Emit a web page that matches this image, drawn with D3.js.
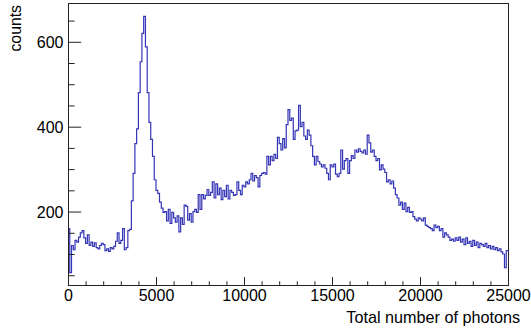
<!DOCTYPE html>
<html>
<head>
<meta charset="utf-8">
<script src="https://cdn.jsdelivr.net/npm/d3@7"></script>
<style>
  html, body { margin: 0; padding: 0; background: #fff; }
  svg { display: block; }
  text { font-family: "Liberation Sans", Arial, Helvetica, sans-serif; fill: #000; }
</style>
</head>
<body>
<svg id="chart" width="531" height="333"></svg>
<script>
// ---- data ----
const xRange = [0, 25000];
const nBins = 250;
// counts per bin (bin width 100 photons)
const counts = [
  160, 56, 120, 110, 132, 128, 140, 150, 155, 138, 125, 145, 120, 128, 118, 126, 115, 112, 120, 125,
  122, 108, 112, 106, 115, 112, 118, 130, 150, 125, 132, 160, 110, 115, 155,
  158, 225, 290, 360, 395, 480, 553, 620, 660, 588, 480, 410, 370, 330, 275, 250, 243, 222, 208, 198, 200,
  178, 205, 172, 198, 185, 175, 190, 152, 185, 170, 215, 212, 180, 195, 175, 200, 205, 198, 240, 205,
  240, 230, 238, 252, 238, 245, 270, 232,
  265, 240, 255, 228, 250, 235, 262, 230, 250, 245, 238, 240, 270, 250, 240, 262, 258, 270, 265, 275,
  290, 272, 285, 280, 258, 285, 290, 292, 288, 330, 310, 330, 320, 335, 325, 375, 360, 345, 372, 350,
  405, 440, 415, 420,
  370, 390, 392, 450, 400, 410, 378, 370, 392, 380, 355, 330, 310, 330, 318, 312, 305, 310, 302, 290,
  275, 310, 305, 312, 288, 282, 290, 345, 300, 320, 325, 290, 320, 332, 325, 345, 340, 348, 342, 338,
  345, 335, 380, 362, 340, 345, 330, 320, 325, 298, 310, 300, 292, 270, 275, 265, 272, 255, 240, 232,
  215, 222, 205, 220, 200, 210, 198,
  200, 188, 182, 178, 185, 182, 178, 185, 168, 165, 162, 160, 155, 168, 162, 165, 155, 160, 140, 150,
  145, 140, 132, 135, 130, 138, 132, 140, 128, 135, 122, 138, 125, 130, 118, 132, 120, 128, 115, 125,
  122, 118, 125, 115, 120, 112, 118, 110, 115, 108, 112, 105, 100, 68, 108
];
const xMajorTicks = [0, 5000, 10000, 15000, 20000, 25000];
const xMinorStep = 1000;
const yMajorTicks = [200, 400, 600];
const yMinorStep = 50;
const xTitle = "Total number of photons";
const yTitle = "counts";

// ---- layout ----
const frame = { left: 68, right: 508, top: 3.5, bottom: 285.5 };
const fontSize = 16;
const lineColor = "#3434b6";

const svg = d3.select("#chart");

const binW = (xRange[1] - xRange[0]) / nBins;
const cMin = d3.min(counts), cMax = d3.max(counts);
const margin = 0.05 * (cMax - cMin);

const x = d3.scaleLinear().domain(xRange).range([frame.left, frame.right]);
const y = d3.scaleLinear().domain([cMin - margin, cMax + margin]).range([frame.bottom, frame.top]);

// histogram outline
const pts = counts.map((c, i) => [xRange[0] + i * binW, c]);
pts.push([xRange[1], counts[counts.length - 1]]);
const line = d3.line().x(d => x(d[0])).y(d => y(d[1])).curve(d3.curveStepAfter);
svg.append("path")
  .attr("d", line(pts))
  .attr("fill", "none")
  .attr("stroke", lineColor)
  .attr("stroke-width", 1.2);

// minor ticks
const xMinor = d3.range(xRange[0], xRange[1] + 1, xMinorStep).filter(v => !xMajorTicks.includes(v));
const yDom = y.domain();
const yMinor = d3.range(Math.ceil(yDom[0] / yMinorStep) * yMinorStep, yDom[1], yMinorStep)
  .filter(v => !yMajorTicks.includes(v));

const xLen = 0.03 * (frame.bottom - frame.top);
const yLen = 0.03 * (frame.right - frame.left);

const gxMinor = svg.append("g").attr("transform", `translate(0,${frame.bottom})`)
  .call(d3.axisBottom(x).tickValues(xMinor).tickSize(-xLen / 2).tickFormat(""));
gxMinor.select(".domain").remove();

const gx = svg.append("g").attr("transform", `translate(0,${frame.bottom})`)
  .call(d3.axisBottom(x).tickValues(xMajorTicks).tickSize(-xLen).tickPadding(4).tickFormat(d3.format("d")));
gx.select(".domain").remove();

const gyMinor = svg.append("g").attr("transform", `translate(${frame.left},0)`)
  .call(d3.axisLeft(y).tickValues(yMinor).tickSize(-yLen / 2).tickFormat(""));
gyMinor.select(".domain").remove();

const gy = svg.append("g").attr("transform", `translate(${frame.left},0)`)
  .call(d3.axisLeft(y).tickValues(yMajorTicks).tickSize(-yLen).tickPadding(4.5).tickFormat(d3.format("d")));
gy.select(".domain").remove();

svg.selectAll(".tick line").attr("stroke", "#222").attr("stroke-width", 1);
svg.selectAll(".tick text")
  .attr("font-family", '"Liberation Sans", Arial, Helvetica, sans-serif')
  .attr("font-size", fontSize).attr("fill", "#000");
gy.selectAll(".tick text").attr("dy", "0.36em");

// frame
svg.append("rect")
  .attr("x", frame.left + 0.5).attr("y", frame.top)
  .attr("width", frame.right - frame.left).attr("height", frame.bottom - frame.top)
  .attr("fill", "none").attr("stroke", "#222").attr("stroke-width", 1);

// axis titles
svg.append("text")
  .attr("x", 520).attr("y", 323.3)
  .attr("text-anchor", "end")
  .attr("font-size", 16.2)
  .text(xTitle);

svg.append("text")
  .attr("transform", "translate(21,5) rotate(-90)")
  .attr("text-anchor", "end")
  .attr("font-size", 15.8)
  .text(yTitle);
</script>
</body>
</html>
